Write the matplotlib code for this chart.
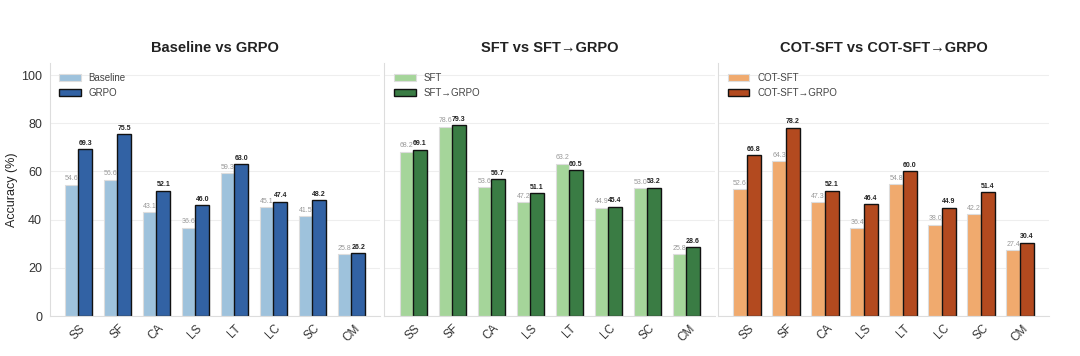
import numpy as np
import matplotlib.pyplot as plt
import seaborn as sns

sns.set_style("whitegrid")
plt.rcParams["font.family"] = ["Liberation Sans", "DejaVu Sans"]

tasks = ["SS", "SF", "CA", "LS", "LT", "LC", "SC", "CM"]

baseline = [54.6, 56.6, 43.1, 36.6, 59.3, 45.1, 41.5, 25.8]
grpo = [69.3, 75.5, 52.1, 46.0, 63.0, 47.4, 48.2, 26.2]
sft = [68.2, 78.6, 53.6, 47.2, 63.2, 44.9, 53.0, 25.8]
sft_grpo = [69.1, 79.3, 56.7, 51.1, 60.5, 45.4, 53.2, 28.6]
cot_sft = [52.6, 64.3, 47.3, 36.4, 54.8, 38.0, 42.2, 27.4]
cot_sft_grpo = [66.8, 78.2, 52.1, 46.4, 60.0, 44.9, 51.4, 30.4]

panels = [
    ("Baseline vs GRPO", "Baseline", baseline, "GRPO", grpo, "#9ec2dc", "#3262a4"),
    ("SFT vs SFT\u2192GRPO", "SFT", sft, "SFT\u2192GRPO", sft_grpo, "#a5d59a", "#3a7c44"),
    ("COT-SFT vs COT-SFT\u2192GRPO", "COT-SFT", cot_sft, "COT-SFT\u2192GRPO", cot_sft_grpo,
     "#f0aa6e", "#b34a1f"),
]

fig = plt.figure(figsize=(10.8, 3.56), dpi=100)
lefts = [0.046, 0.356, 0.665]
width = 0.306
x = np.arange(len(tasks))
w = 0.35

for i, (title, n1, v1, n2, v2, c1, c2) in enumerate(panels):
    ax = fig.add_axes([lefts[i], 0.112, width, 0.711])
    b1 = ax.bar(x - w / 2, v1, w, color=c1, edgecolor="#dddddd", linewidth=0.8, label=n1)
    b2 = ax.bar(x + w / 2, v2, w, color=c2, edgecolor="#111111", linewidth=1.0, label=n2)
    for rect, v in zip(b1, v1):
        ax.text(rect.get_x() + rect.get_width() / 2, v + 1, f"{v:.1f}",
                ha="center", va="bottom", fontsize=5, color="#999999")
    for rect, v in zip(b2, v2):
        ax.text(rect.get_x() + rect.get_width() / 2, v + 1, f"{v:.1f}",
                ha="center", va="bottom", fontsize=5, color="#222222", fontweight="bold")
    ax.set_ylim(0, 105)
    ax.set_yticks([0, 20, 40, 60, 80, 100])
    ax.set_xticks(x)
    ax.set_xticklabels(tasks, rotation=45, fontsize=8.5, color="#333333")
    ax.tick_params(axis="y", labelsize=9, colors="#333333", pad=2)
    ax.tick_params(axis="x", pad=1)
    ax.xaxis.grid(False)
    ax.yaxis.grid(True, color="#eeeeee", linewidth=0.8)
    ax.set_title(title, fontsize=10.5, fontweight="bold", color="#222222", pad=8)
    for side in ["top", "right"]:
        ax.spines[side].set_visible(False)
    for side in ["left", "bottom"]:
        ax.spines[side].set_color("#dddddd")
        ax.spines[side].set_linewidth(0.8)
    if i == 0:
        ax.set_ylabel("Accuracy (%)", fontsize=9, color="#222222", labelpad=2)
    else:
        ax.set_yticklabels([])
    ax.legend(loc="upper left", frameon=False, fontsize=7, handlelength=2.2,
              labelcolor="#444444", borderaxespad=0.6)

plt.savefig("out.png", dpi=100)
